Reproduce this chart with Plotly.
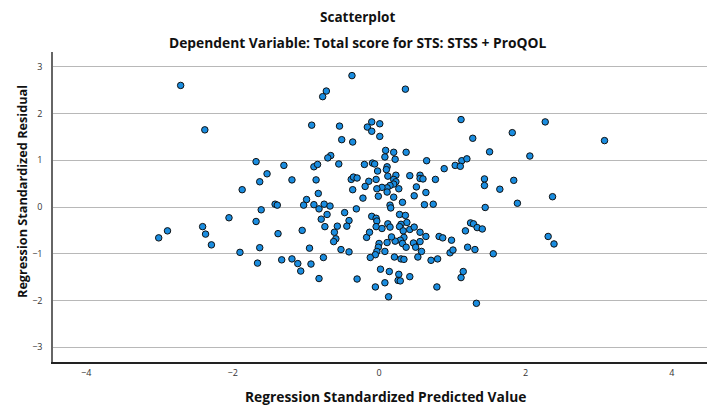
import plotly.graph_objects as go

# Regression standardized predicted values (x) and standardized residuals (y)
pred = [
    -2.71, -2.38, -1.68, -1.53, -1.63, -1.87, -1.61, -2.05, -1.68, -2.41,
    -2.89, -2.37, -3.01, -2.29, -1.90, -1.63, -1.66, -0.37, 0.36, -0.72,
    -0.77, 1.12, -0.92, -0.54, -0.10, 0.01, -0.16, -0.10, 0.01, 1.28,
    -0.51, -0.36, 0.09, 0.20, 0.37, 0.08, 0.22, -0.66, -0.70, 0.65,
    1.13, 1.20, 1.04, 1.11, 0.89, -1.30, -0.89, -0.84, -0.55, -0.20,
    -0.09, -0.06, 0.11, 0.10, -0.02, -1.19, -0.86, -0.38, -0.35, -0.30,
    -0.14, -0.04, 0.12, 0.23, 0.20, 0.23, 0.42, 0.56, 0.56, 0.60,
    0.77, 0.20, 0.27, 0.15, 0.11, 0.04, -0.03, 0.11, 0.51, 0.64,
    -0.19, -0.36, -0.83, -0.99, -0.22, -0.01, 0.20, 0.48, 0.32, -1.42,
    -1.39, -1.03, -0.89, -0.75, -0.67, -0.82, -0.31, 0.15, 0.16, 0.62,
    0.74, -0.71, -1.38, -1.05, -0.95, -1.33, -1.19, -1.11, -1.07, -0.93,
    -0.82, -0.76, -0.79, -0.74, -0.47, -0.41, -0.44, -0.57, -0.61, -0.59,
    -0.62, -0.52, -0.41, -0.30, -0.17, -0.13, -0.10, -0.04, -0.03, -0.04,
    0.04, 0.12, 0.15, 0.28, 0.36, 0.38, 0.30, 0.28, 0.33, 0.42,
    0.48, 0.56, 0.64, 0.34, 0.29, 0.22, 0.17, 0.11, 0.00, -0.01,
    -0.03, -0.05, -0.12, 0.08, 0.32, 0.37, 0.47, 0.50, 0.56, 0.58,
    0.53, 0.21, 0.30, 0.34, 0.71, 0.80, 0.82, 0.87, 0.99, 0.97,
    1.01, 1.18, 1.25, 1.29, 1.34, 1.21, 1.31, 0.02, 0.14, 0.27,
    0.26, 0.29, 0.42, -0.05, 0.08, 0.13, 0.79, 1.15, 1.12, 1.33,
    2.27, 1.82, 3.08, 1.51, 2.06, 1.44, 1.44, 1.84, 1.65, 2.37,
    1.89, 1.45, 1.41, 1.56, 2.31, 2.39,
]
resid = [
    2.60, 1.65, 0.97, 0.71, 0.54, 0.37, -0.06, -0.23, -0.31, -0.42,
    -0.51, -0.58, -0.66, -0.81, -0.97, -0.87, -1.20, 2.81, 2.52, 2.48,
    2.36, 1.87, 1.75, 1.73, 1.82, 1.78, 1.71, 1.62, 1.51, 1.47,
    1.44, 1.39, 1.21, 1.17, 1.17, 1.07, 1.02, 1.10, 1.05, 0.99,
    0.99, 1.03, 0.89, 0.87, 0.82, 0.89, 0.86, 0.91, 0.92, 0.91,
    0.94, 0.92, 0.86, 0.80, 0.77, 0.58, 0.58, 0.59, 0.64, 0.62,
    0.55, 0.59, 0.66, 0.68, 0.59, 0.54, 0.67, 0.68, 0.61, 0.60,
    0.59, 0.49, 0.39, 0.46, 0.41, 0.42, 0.39, 0.32, 0.43, 0.31,
    0.44, 0.37, 0.29, 0.16, 0.19, 0.23, 0.21, 0.24, 0.10, 0.06,
    0.04, 0.04, 0.05, 0.06, 0.02, -0.04, -0.04, 0.04, -0.02, 0.05,
    0.06, -0.16, -0.57, -0.50, -0.88, -1.13, -1.11, -1.21, -1.37, -1.22,
    -1.53, -1.08, -0.26, -0.42, -0.12, -0.29, -0.41, -0.41, -0.54, -0.68,
    -0.74, -0.91, -0.96, -1.54, -0.65, -0.54, -0.20, -0.24, -0.30, -0.42,
    -0.46, -0.36, -0.43, -0.16, -0.18, -0.33, -0.37, -0.42, -0.51, -0.48,
    -0.43, -0.54, -0.63, -0.65, -0.71, -0.73, -0.64, -0.76, -0.78, -0.86,
    -0.95, -1.02, -1.08, -0.95, -0.78, -0.86, -0.77, -0.86, -0.74, -0.95,
    -1.07, -1.07, -1.11, -1.12, -1.14, -1.11, -0.63, -0.66, -0.71, -0.98,
    -0.92, -0.51, -0.34, -0.36, -0.44, -0.86, -0.91, -1.33, -1.38, -1.44,
    -1.57, -1.58, -1.49, -1.71, -1.62, -1.92, -1.71, -1.38, -1.51, -2.06,
    1.82, 1.59, 1.42, 1.18, 1.09, 0.60, 0.46, 0.57, 0.38, 0.22,
    0.08, -0.01, -0.47, -1.00, -0.63, -0.79,
]

x_ticks = [-4, -2, 0, 2, 4]
y_ticks = [-3, -2, -1, 0, 1, 2, 3]

title_text = "Scatterplot"
subtitle_text = "Dependent Variable: Total score for STS: STSS + ProQOL"
x_title = "Regression Standardized Predicted Value"
y_title = "Regression Standardized Residual"

FONT = "Open Sans"

fig = go.Figure()
fig.add_trace(go.Scatter(
    x=pred, y=resid, mode="markers",
    marker=dict(size=6.5, color="#1a8de0", line=dict(color="#111111", width=1)),
    hoverinfo="skip", showlegend=False,
))

fig.update_layout(
    width=714, height=405,
    margin=dict(l=53, r=7, t=52, b=43),
    paper_bgcolor="white", plot_bgcolor="white",
    font=dict(family=FONT, color="#222222"),
    xaxis=dict(
        range=[-4.454, 4.48], tickvals=x_ticks, ticks="",
        showgrid=False, zeroline=False,
        showline=True, linecolor="#222222", linewidth=1.5,
        tickfont=dict(size=9, color="#333333"),
        ticklabelstandoff=1,
    ),
    yaxis=dict(
        range=[-3.315, 3.315], tickvals=y_ticks, ticks="",
        showgrid=True, gridcolor="#b8b8b8", gridwidth=1,
        zeroline=False,
        showline=True, linecolor="#666666", linewidth=1.5,
        tickfont=dict(size=9, color="#333333"),
        ticklabelstandoff=7,
    ),
    annotations=[
        dict(text=title_text, x=0.5, y=17, xref="paper", yref="paper",
             showarrow=False, font=dict(size=13.5, family=FONT, weight="bold", color="#111111")),
        dict(text=subtitle_text, x=0.5, y=42, xref="paper", yref="paper",
             showarrow=False, font=dict(size=13.8, family=FONT, weight="bold", color="#111111")),
        dict(text=x_title, x=386, y=396, xref="paper", yref="paper",
             showarrow=False, font=dict(size=13.8, family=FONT, weight="bold", color="#111111")),
        dict(text=y_title, x=22, y=192, xref="paper", yref="paper", textangle=-90,
             showarrow=False, font=dict(size=12.7, family=FONT, weight="bold", color="#111111")),
    ],
)

# convert pixel positions of text annotations into paper coordinates
W, H = 714, 405
l, r, t, b = 53, 7, 52, 43
pw, ph = W - l - r, H - t - b
for a in fig.layout.annotations:
    if a.x == 0.5:
        a.x = (W / 2 - l) / pw
    else:
        a.x = (a.x - l) / pw
    a.y = (H - b - a.y) / ph
    a.xanchor = "center"
    a.yanchor = "middle"

fig.write_html("out.html")
